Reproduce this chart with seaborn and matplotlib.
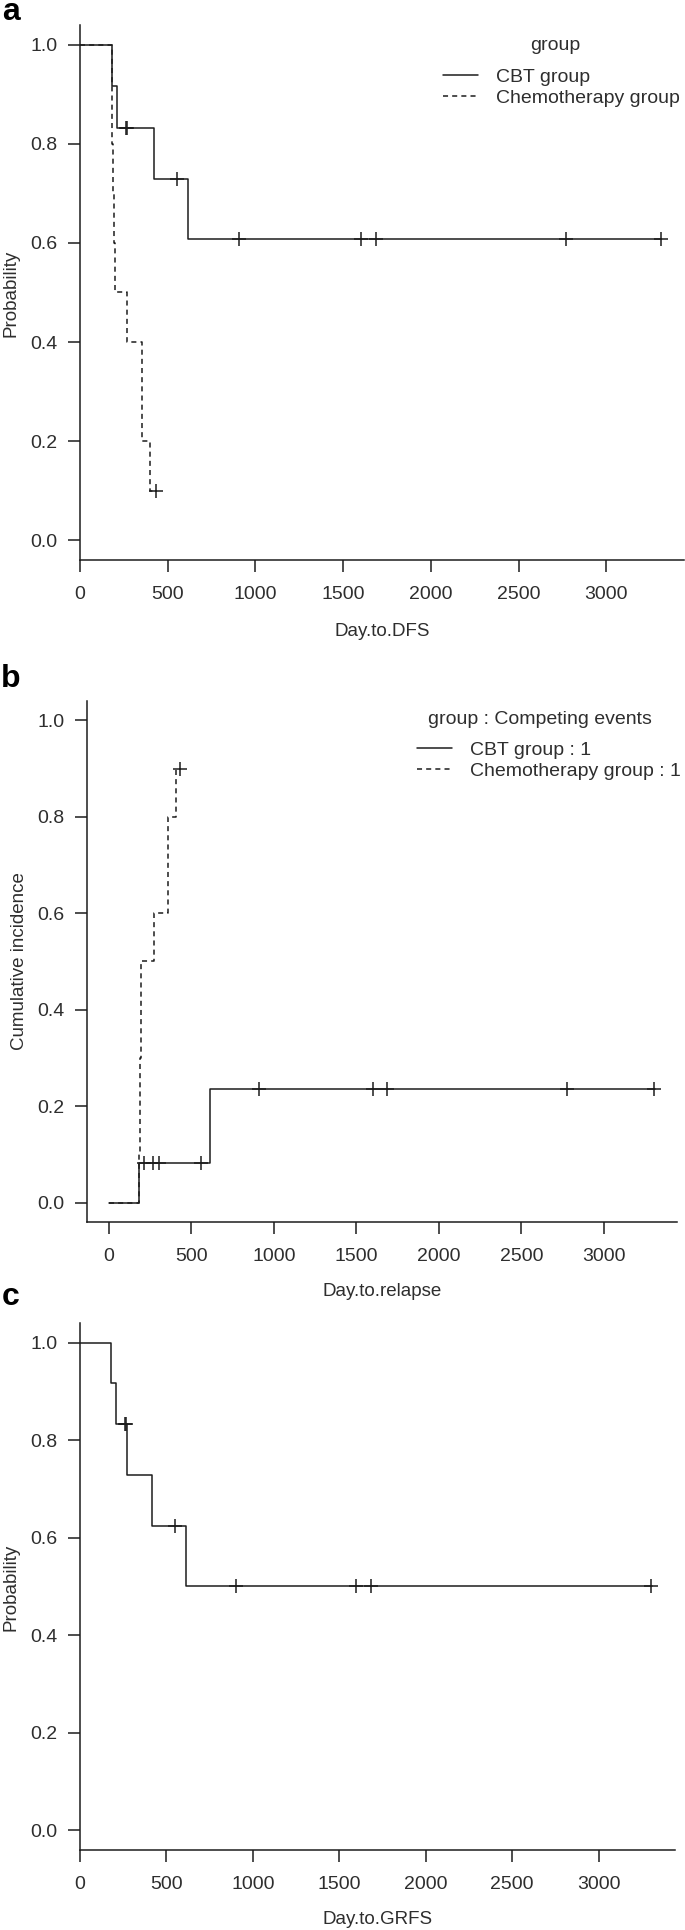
import numpy as np
import pandas as pd
import seaborn as sns
import matplotlib.pyplot as plt

# a: disease free survival by group
dfs_cbt_days = [0, 181, 209, 422, 616, 3310]
dfs_cbt_prob = [1.0, 0.917, 0.833, 0.729, 0.608, 0.608]
dfs_cbt_censor = [263, 269, 554, 906, 1599, 1684, 2771, 3310]
dfs_chemo_days = [0, 181, 185, 189, 193, 197, 267, 352, 398, 433]
dfs_chemo_prob = [1.0, 0.9, 0.8, 0.7, 0.6, 0.5, 0.4, 0.2, 0.1, 0.1]
dfs_chemo_censor = [433]

# b: cumulative incidence of relapse
rel_cbt_days = [0, 180, 615, 3310]
rel_cbt_ci = [0.0, 0.083, 0.236, 0.236]
rel_cbt_censor = [216, 269, 304, 560, 911, 1603, 1685, 2773, 3305]
rel_chemo_days = [0, 183, 187, 191, 195, 198, 272, 359, 405, 433]
rel_chemo_ci = [0.0, 0.1, 0.2, 0.3, 0.4, 0.5, 0.6, 0.8, 0.9, 0.9]
rel_chemo_censor = [433]

# c: GRFS, CBT only
grfs_days = [0, 179, 209, 272, 416, 612, 3310]
grfs_prob = [1.0, 0.917, 0.833, 0.729, 0.625, 0.5, 0.5]
grfs_censor = [262, 268, 549, 904, 1594, 1685, 3302]

groups = ['CBT group', 'Chemotherapy group']
groups_b = ['CBT group : 1', 'Chemotherapy group : 1']
x_ticks = [0, 500, 1000, 1500, 2000, 2500, 3000]
y_ticks = [0.0, 0.2, 0.4, 0.6, 0.8, 1.0]

INK = '#1c1c1c'
TXT = '#2e2e2e'

sns.set_style('ticks')
plt.rcParams['font.family'] = ['Liberation Sans', 'DejaVu Sans']


def curve(days, vals, label):
    return pd.DataFrame({'time': days, 'value': vals, 'group': label})


def marks(cens, days, vals, label):
    idx = np.searchsorted(days, cens, side='right') - 1
    return pd.DataFrame({'time': cens, 'value': np.array(vals)[idx], 'group': label})


W, H = 685, 1930
fig = plt.figure(figsize=(W / 100, H / 100), dpi=100)


def px_axes(left, top, right, bottom):
    return fig.add_axes([left / W, 1 - bottom / H, (right - left) / W, (bottom - top) / H])


ax_a = px_axes(80, 25, 684, 560)
ax_b = px_axes(87, 701, 677, 1222)
ax_c = px_axes(80, 1323, 675, 1850)

dash_a = {groups[0]: '', groups[1]: (3.3, 2.7)}
dash_b = {groups_b[0]: '', groups_b[1]: (3.3, 2.7)}

# panel a
lines_a = pd.concat([curve(dfs_cbt_days, dfs_cbt_prob, groups[0]),
                     curve(dfs_chemo_days, dfs_chemo_prob, groups[1])])
cens_a = pd.concat([marks(dfs_cbt_censor, dfs_cbt_days, dfs_cbt_prob, groups[0]),
                    marks(dfs_chemo_censor, dfs_chemo_days, dfs_chemo_prob, groups[1])])
sns.lineplot(data=lines_a, x='time', y='value', style='group', style_order=groups,
             dashes=dash_a, color=INK, linewidth=1.1, drawstyle='steps-post',
             estimator=None, sort=False, ax=ax_a)
sns.scatterplot(data=cens_a, x='time', y='value', marker='+', s=110, color=INK,
                linewidth=1.1, legend=False, ax=ax_a)

# panel b
lines_b = pd.concat([curve(rel_cbt_days, rel_cbt_ci, groups_b[0]),
                     curve(rel_chemo_days, rel_chemo_ci, groups_b[1])])
cens_b = pd.concat([marks(rel_cbt_censor, rel_cbt_days, rel_cbt_ci, groups_b[0]),
                    marks(rel_chemo_censor, rel_chemo_days, rel_chemo_ci, groups_b[1])])
sns.lineplot(data=lines_b, x='time', y='value', style='group', style_order=groups_b,
             dashes=dash_b, color=INK, linewidth=1.1, drawstyle='steps-post',
             estimator=None, sort=False, ax=ax_b)
sns.scatterplot(data=cens_b, x='time', y='value', marker='+', s=110, color=INK,
                linewidth=1.1, legend=False, ax=ax_b)

# panel c
lines_c = curve(grfs_days, grfs_prob, groups[0])
cens_c = marks(grfs_censor, grfs_days, grfs_prob, groups[0])
sns.lineplot(data=lines_c, x='time', y='value', color=INK, linewidth=1.1,
             drawstyle='steps-post', estimator=None, sort=False, legend=False, ax=ax_c)
sns.scatterplot(data=cens_c, x='time', y='value', marker='+', s=110, color=INK,
                linewidth=1.1, legend=False, ax=ax_c)

for ax, x0 in [(ax_a, 0), (ax_b, -132), (ax_c, 0)]:
    ax.set_xlim(x0, 3442)
    ax.set_ylim(-0.04, 1.04)
    ax.set_xticks(x_ticks)
    ax.set_yticks(y_ticks)
    ax.set_yticklabels(['%.1f' % v for v in y_ticks])
    ax.set_xlabel('')
    ax.set_ylabel('')
    for side in ['top', 'right']:
        ax.spines[side].set_visible(False)
    for side in ['left', 'bottom']:
        ax.spines[side].set_linewidth(1.1)
        ax.spines[side].set_color(INK)
    ax.tick_params(direction='out', length=8.6, width=1.1, labelsize=14,
                   color=INK, labelcolor=TXT)
    ax.tick_params(axis='x', pad=10)
    ax.tick_params(axis='y', pad=7.5)

# legends: entries via seaborn, titles as separate text
leg_kw = dict(bbox_transform=fig.transFigure, frameon=False, fontsize=14,
              title=None, handlelength=1.8, handletextpad=0.95,
              labelspacing=0.2, borderpad=0, borderaxespad=0)
sns.move_legend(ax_a, 'center left', bbox_to_anchor=(443 / W, 1 - 87.5 / H), **leg_kw)
sns.move_legend(ax_b, 'center left', bbox_to_anchor=(417 / W, 1 - 760.5 / H), **leg_kw)
for ax in [ax_a, ax_b]:
    for t in ax.get_legend().get_texts():
        t.set_color(TXT)
fig.text(555 / W, 1 - 45 / H, 'group', ha='center', va='center', fontsize=14, color=TXT)
fig.text(540 / W, 1 - 720 / H, 'group : Competing events', ha='center', va='center',
         fontsize=14, color=TXT)

# axis titles and panel letters
fig.text(382 / W, 1 - 631 / H, 'Day.to.DFS', ha='center', va='center', fontsize=13.5, color=TXT)
fig.text(382 / W, 1 - 1292 / H, 'Day.to.relapse', ha='center', va='center', fontsize=13.5, color=TXT)
fig.text(378 / W, 1 - 1919 / H, 'Day.to.GRFS', ha='center', va='center', fontsize=13.5, color=TXT)
fig.text(11 / W, 1 - 293 / H, 'Probability', ha='center', va='center', rotation=90, fontsize=13.5, color=TXT)
fig.text(20 / W, 1 - 961 / H, 'Cumulative incidence', ha='center', va='center', rotation=90, fontsize=13.5, color=TXT)
fig.text(11 / W, 1 - 1587 / H, 'Probability', ha='center', va='center', rotation=90, fontsize=13.5, color=TXT)

fig.text(11 / W, 1 - 12 / H, 'a', ha='center', va='center', fontsize=23, fontweight='bold', color='black')
fig.text(11 / W, 1 - 679 / H, 'b', ha='center', va='center', fontsize=23, fontweight='bold', color='black')
fig.text(11 / W, 1 - 1297 / H, 'c', ha='center', va='center', fontsize=23, fontweight='bold', color='black')

fig.savefig('out.png', dpi=100, facecolor='white')
